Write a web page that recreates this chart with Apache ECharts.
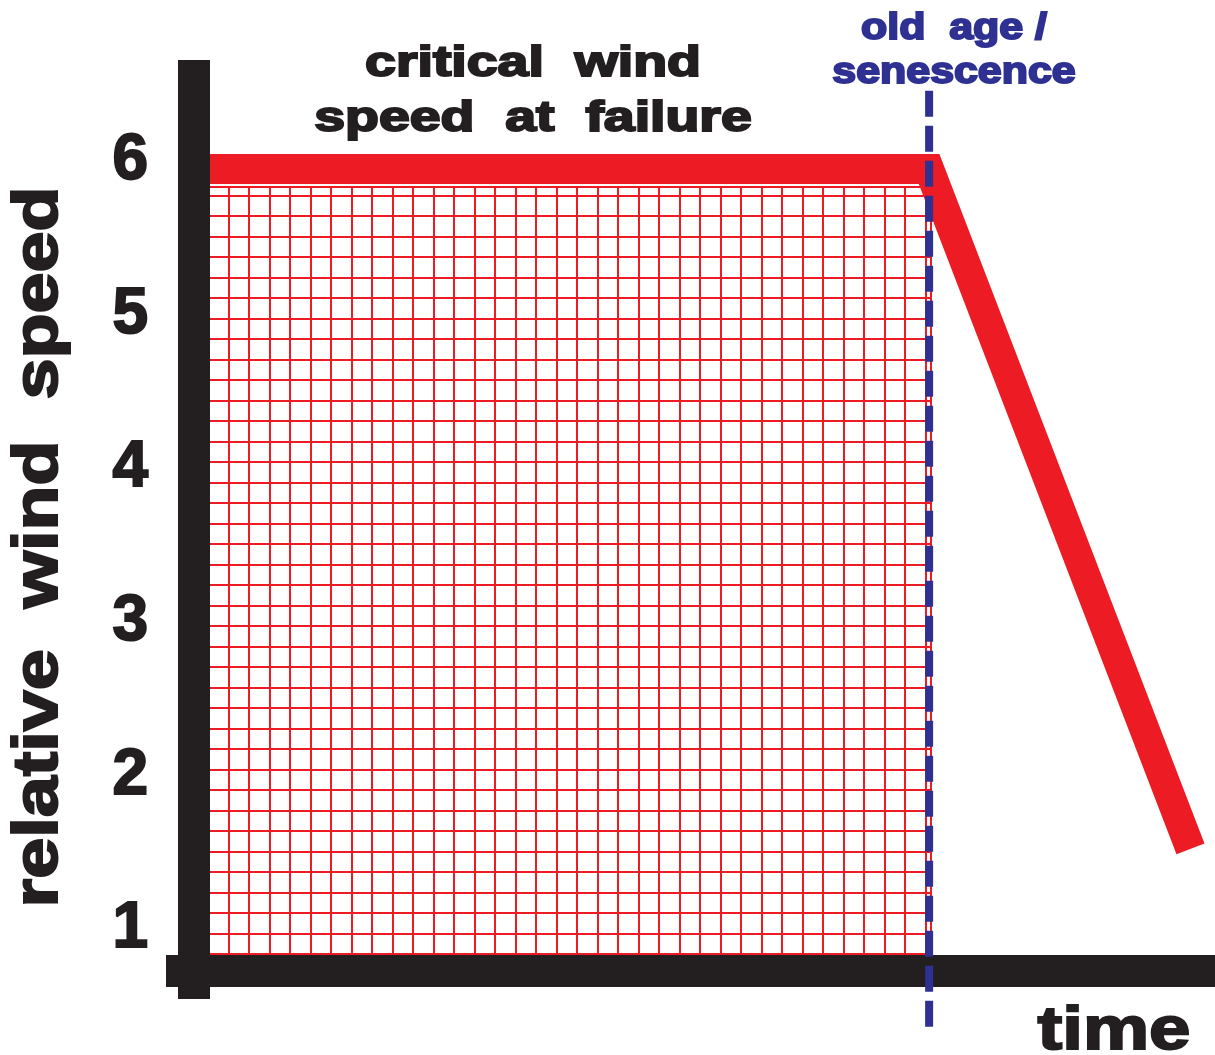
<!DOCTYPE html>
<html>
<head>
	<meta charset="utf-8"/>
	<title>critical wind speed</title>
	<style>
		* {
			margin: 0;
			padding: 0;
		}
		html, body {
			width: 1215px;
			height: 1055px;
			background: #fff;
			overflow: hidden;
		}
		#main {
			width: 1215px;
			height: 1055px;
		}
	</style>
</head>
<body>

	<div id="main"></div>

	<script src="https://cdn.jsdelivr.net/npm/echarts@6.0.0/dist/echarts.min.js"></script>
	<script>
		// values
		var timeSteps = [0, 72, 97.6];
		var criticalSpeed = [5.95, 5.95, 1.525];
		var senescenceTime = 72;
		var senescenceSpan = [6.46, 0.35];
		var speedTicks = [1, 2, 3, 4, 5, 6];

		var titleLines = ['critical  wind', 'speed  at  failure'];
		var oldAgeLines = ['old  age /', 'senescence'];
		var yName = 'relative  wind  speed';
		var xName = 'time';

		var RED = '#ED1C24';
		var INK = '#231F20';
		var NAVY = '#2E3192';
		var FONT = '"Liberation Sans", Arial, sans-serif';

		var myChart = echarts.init(document.getElementById('main'));

		var curve = timeSteps.map(function (t, i) {
			return [t, criticalSpeed[i]];
		});
		var senescence = senescenceSpan.map(function (v) {
			return [senescenceTime, v];
		});

		function boldText(text, x, y, size, color, sx, rot) {
			return {
				type: 'text',
				x: x,
				y: y,
				rotation: rot || 0,
				scaleX: sx,
				z: 100,
				style: {
					text: text,
					font: 'bold ' + size + 'px ' + FONT,
					fill: color,
					stroke: color,
					lineWidth: 2,
					align: 'center',
					verticalAlign: 'middle'
				}
			};
		}

		var option = {
			animation: false,
			grid: [
				{ left: 194, right: 0, top: 60, bottom: 84 },
				// fine hatching under the curve
				{ left: 208, width: 723, top: 187, height: 767, show: true,
				  borderColor: RED, borderWidth: 2, z: 0 }
			],
			xAxis: [{
				type: 'value',
				min: 0,
				max: 100,
				z: 5,
				axisLine: {
					onZero: false,
					symbol: ['rect', 'none'],
					symbolSize: [32, 56],
					lineStyle: { color: INK, width: 32, cap: 'butt' }
				},
				axisTick: { show: false },
				axisLabel: { show: false },
				splitLine: { show: false }
			}, {
				type: 'value',
				gridIndex: 1,
				min: 0,
				max: 35.27,
				interval: 1,
				axisLine: { show: false },
				axisTick: { show: false },
				axisLabel: { show: false },
				splitLine: { lineStyle: { color: RED, width: 2 } }
			}],
			yAxis: [{
				type: 'value',
				min: 0.73,
				max: 6.66,
				z: 5,
				axisLine: {
					onZero: false,
					symbol: ['rect', 'none'],
					symbolSize: [32, 56],
					lineStyle: { color: INK, width: 32, cap: 'butt' }
				},
				axisTick: { show: false },
				splitLine: { show: false },
				axisLabel: {
					customValues: speedTicks,
					margin: 46,
					color: INK,
					fontFamily: FONT,
					fontWeight: 'bold',
					fontSize: 64,
					textBorderColor: INK,
					textBorderWidth: 2
				}
			}, {
				type: 'value',
				gridIndex: 1,
				min: 0,
				max: 37.41,
				interval: 1,
				axisLine: { show: false },
				axisTick: { show: false },
				axisLabel: { show: false },
				splitLine: { lineStyle: { color: RED, width: 2 } }
			}],
			series: [{
				type: 'line',
				data: curve,
				symbol: 'none',
				z: 3,
				lineStyle: { color: RED, width: 30, cap: 'butt', join: 'miter' }
			}, {
				type: 'line',
				data: senescence,
				symbol: 'none',
				clip: false,
				z: 10,
				lineStyle: { color: NAVY, width: 8, type: [26, 9], cap: 'butt' }
			}],
			graphic: [
				boldText(titleLines[0], 533, 64, 42, INK, 1.32),
				boldText(titleLines[1], 533, 119, 42, INK, 1.32),
				boldText(oldAgeLines[0], 954, 29, 37, NAVY, 1.16),
				boldText(oldAgeLines[1], 954, 73, 37, NAVY, 1.16),
				boldText(xName, 1114, 1032, 62, INK, 1.2),
				boldText(yName, 40, 547, 63, INK, 1.17, Math.PI / 2)
			]
		};

		myChart.setOption(option);
	</script>
</body>
</html>
